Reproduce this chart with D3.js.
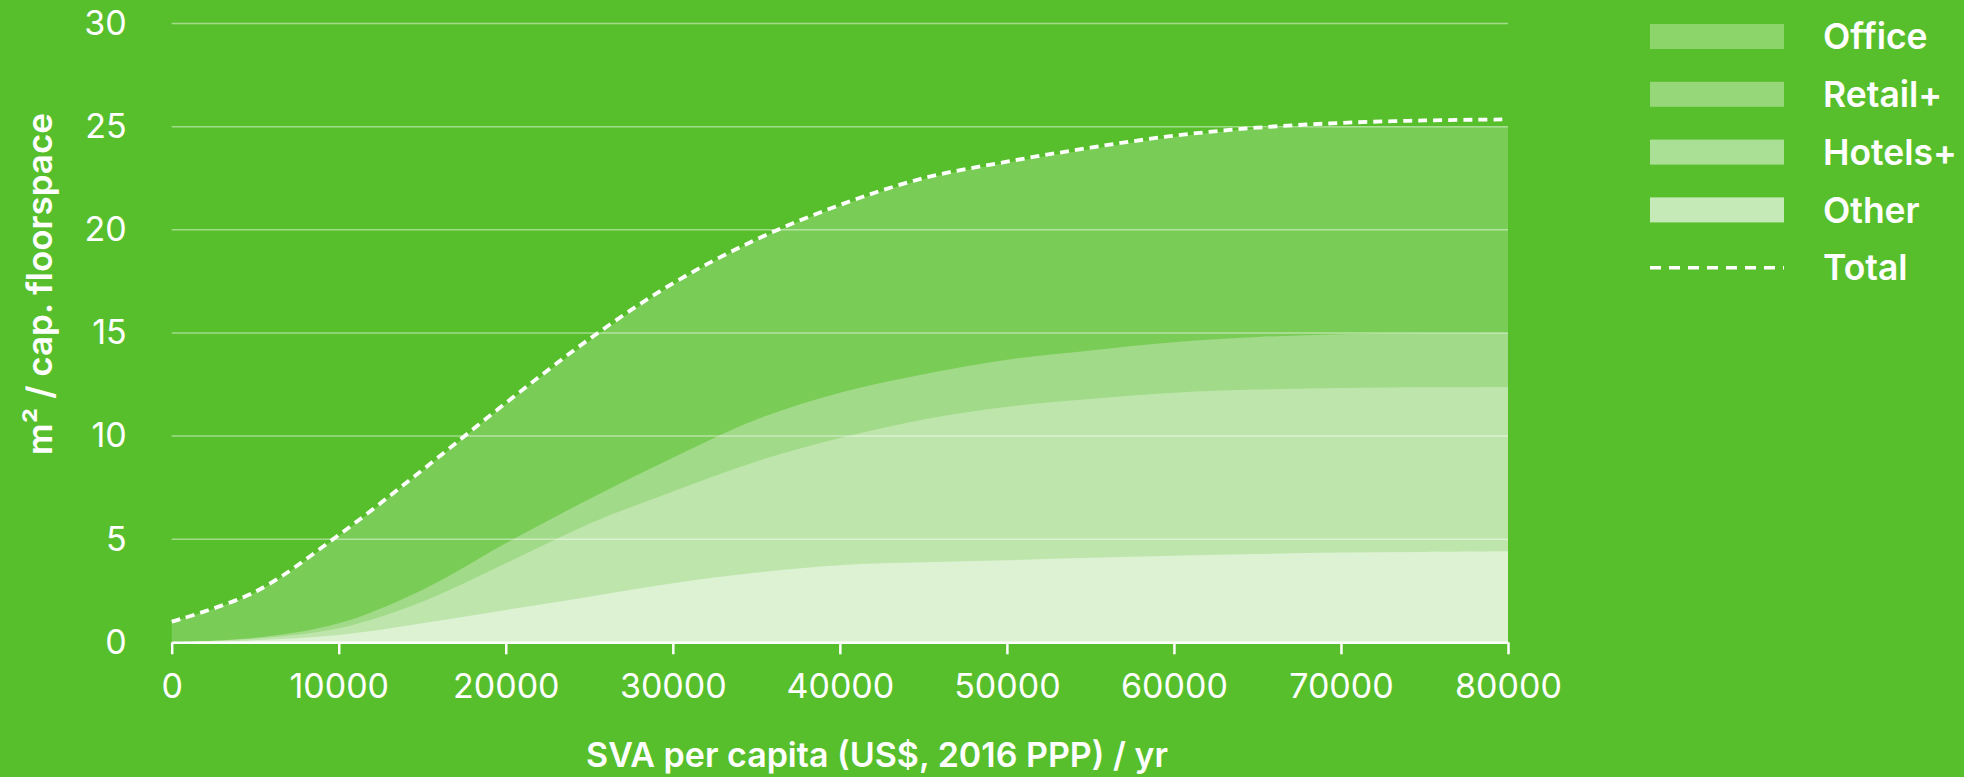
<!DOCTYPE html>
<html>
<head>
<meta charset="utf-8">
<script src="https://cdn.jsdelivr.net/npm/d3@7"></script>
<style>
  html, body { margin: 0; padding: 0; background: #57bf2c; }
  svg { display: block; font-family: Inter, "Noto Sans", sans-serif; }
</style>
</head>
<body>
<div id="chart"></div>
<script>
// SVA per capita (US$, 2016 PPP) / yr
const xValues = [0, 5000, 10000, 15000, 20000, 25000, 30000, 35000, 40000, 45000, 50000, 55000, 60000, 65000, 70000, 75000, 80000];

// m2 / cap. floorspace, per category (stacked bottom to top: Other, Hotels+, Retail+, Office)
const otherValues  = [0, 0.10, 0.35, 0.92, 1.57, 2.21, 2.86, 3.38, 3.74, 3.88, 3.98, 4.10, 4.20, 4.28, 4.35, 4.38, 4.41];
const hotelsValues = [0, 0.08, 0.33, 1.05, 2.26, 3.54, 4.45, 5.39, 6.16, 6.92, 7.44, 7.70, 7.90, 7.97, 7.98, 7.98, 7.97];
const retailValues = [0, 0.04, 0.24, 0.57, 0.97, 1.20, 1.64, 2.03, 2.20, 2.20, 2.28, 2.35, 2.45, 2.55, 2.61, 2.62, 2.62];
const officeValues = [1.0, 2.20, 4.23, 5.76, 6.75, 7.65, 8.40, 8.70, 9.05, 9.45, 9.55, 9.75, 9.95, 10.10, 10.06, 10.02, 10.00];
const totalValues  = [1.0, 2.45, 5.20, 8.35, 11.60, 14.70, 17.40, 19.53, 21.20, 22.50, 23.30, 23.98, 24.56, 24.95, 25.18, 25.30, 25.35];

const categories = ['Office', 'Retail+', 'Hotels+', 'Other'];
const yTicks = [0, 5, 10, 15, 20, 25, 30];
const xTicks = [0, 10000, 20000, 30000, 40000, 50000, 60000, 70000, 80000];

const width = 1964;
const height = 777;
const margin = { top: 23.5, right: 456, bottom: 134.7, left: 171.7 };

const areaColors = { 'Office': '#79cc55', 'Retail+': '#a1da88', 'Hotels+': '#bee6ac', 'Other': '#ddf1d3' };
const legendColors = { 'Office': '#8bd56b', 'Retail+': '#96d879', 'Hotels+': '#aae095', 'Other': '#c6e9b8' };

const rows = xValues.map((x, i) => ({
    x: x,
    'Other': otherValues[i],
    'Hotels+': hotelsValues[i],
    'Retail+': retailValues[i],
    'Office': officeValues[i],
}));

const svg = d3.select('#chart').append('svg')
    .attr('width', width)
    .attr('height', height);

svg.append('rect')
    .attr('width', width)
    .attr('height', height)
    .attr('fill', '#57bf2c');

const xScale = d3.scaleLinear()
    .domain([0, 80000])
    .range([margin.left, width - margin.right]);
const yScale = d3.scaleLinear()
    .domain([0, 30])
    .range([height - margin.bottom, margin.top]);

const curve = d3.curveCatmullRom.alpha(0.5);

// stacked areas
const stack = d3.stack().keys(['Other', 'Hotels+', 'Retail+', 'Office']);
const series = stack(rows);

const area = d3.area()
    .x((d) => xScale(d.data.x))
    .y0(yScale(0))
    .y1((d) => yScale(d[1]))
    .curve(curve);

// draw from top layer down so each lighter band sits over the one above it
svg.append('g')
    .selectAll('path')
    .data(series.slice().reverse())
    .enter()
    .append('path')
    .attr('d', area)
    .attr('fill', (d) => areaColors[d.key]);

// grid lines over the areas
svg.append('g')
    .selectAll('line')
    .data(yTicks.filter((t) => t > 0))
    .enter()
    .append('line')
    .attr('x1', xScale(0))
    .attr('x2', xScale(80000))
    .attr('y1', (d) => yScale(d))
    .attr('y2', (d) => yScale(d))
    .attr('stroke', 'white')
    .attr('stroke-opacity', 0.45)
    .attr('stroke-width', 1.5);

// total dashed line
const totalLine = d3.line()
    .x((d, i) => xScale(xValues[i]))
    .y((d) => yScale(d))
    .curve(curve);

svg.append('path')
    .datum(totalValues)
    .attr('d', totalLine)
    .attr('fill', 'none')
    .attr('stroke', 'white')
    .attr('stroke-width', 3.8)
    .attr('stroke-dasharray', '9,6');

// x axis
svg.append('g')
    .attr('transform', `translate(0, ${yScale(0)})`)
    .call(d3.axisBottom(xScale).tickValues(xTicks).tickFormat(d3.format('d')).tickSize(12).tickPadding(20).tickSizeOuter(0))
    .call((g) => g.select('.domain').attr('stroke', 'white').attr('stroke-width', 2.5))
    .call((g) => g.selectAll('.tick line').attr('stroke', 'white').attr('stroke-width', 2.5))
    .call((g) => g.selectAll('.tick text')
        .attr('fill', 'white')
        .attr('font-size', '34px')
        .attr('font-family', 'Inter, sans-serif'));

// y axis labels
svg.append('g')
    .attr('transform', `translate(${margin.left}, 0)`)
    .call(d3.axisLeft(yScale).tickValues(yTicks).tickSize(0).tickPadding(45))
    .call((g) => g.select('.domain').remove())
    .call((g) => g.selectAll('.tick text')
        .attr('fill', 'white')
        .attr('font-size', '34px')
        .attr('font-family', 'Inter, sans-serif'));

// axis titles
svg.append('text')
    .attr('x', 877)
    .attr('y', 767)
    .attr('text-anchor', 'middle')
    .attr('fill', 'white')
    .attr('font-size', '34px')
    .attr('font-weight', 600)
    .text('SVA per capita (US$, 2016 PPP) / yr');

svg.append('text')
    .attr('transform', 'translate(52, 284) rotate(-90)')
    .attr('text-anchor', 'middle')
    .attr('fill', 'white')
    .attr('font-size', '35px')
    .attr('font-weight', 600)
    .text('m² / cap. floorspace');

// legend
const legend = svg.append('g').attr('transform', 'translate(1650, 24)');
const step = 57.8;

categories.forEach((c, i) => {
    legend.append('rect')
        .attr('x', 0)
        .attr('y', i * step)
        .attr('width', 134)
        .attr('height', 25)
        .attr('fill', legendColors[c]);
    legend.append('text')
        .attr('x', 173)
        .attr('y', i * step + 12.5)
        .attr('dy', '0.36em')
        .attr('fill', 'white')
        .attr('font-size', '35.5px')
        .attr('font-weight', 600)
        .text(c);
});

legend.append('line')
    .attr('x1', 0)
    .attr('x2', 134)
    .attr('y1', 4 * step + 12.5)
    .attr('y2', 4 * step + 12.5)
    .attr('stroke', 'white')
    .attr('stroke-width', 3.5)
    .attr('stroke-dasharray', '11,8');
legend.append('text')
    .attr('x', 173)
    .attr('y', 4 * step + 12.5)
    .attr('dy', '0.36em')
    .attr('fill', 'white')
    .attr('font-size', '35.5px')
    .attr('font-weight', 600)
    .text('Total');
</script>
</body>
</html>
